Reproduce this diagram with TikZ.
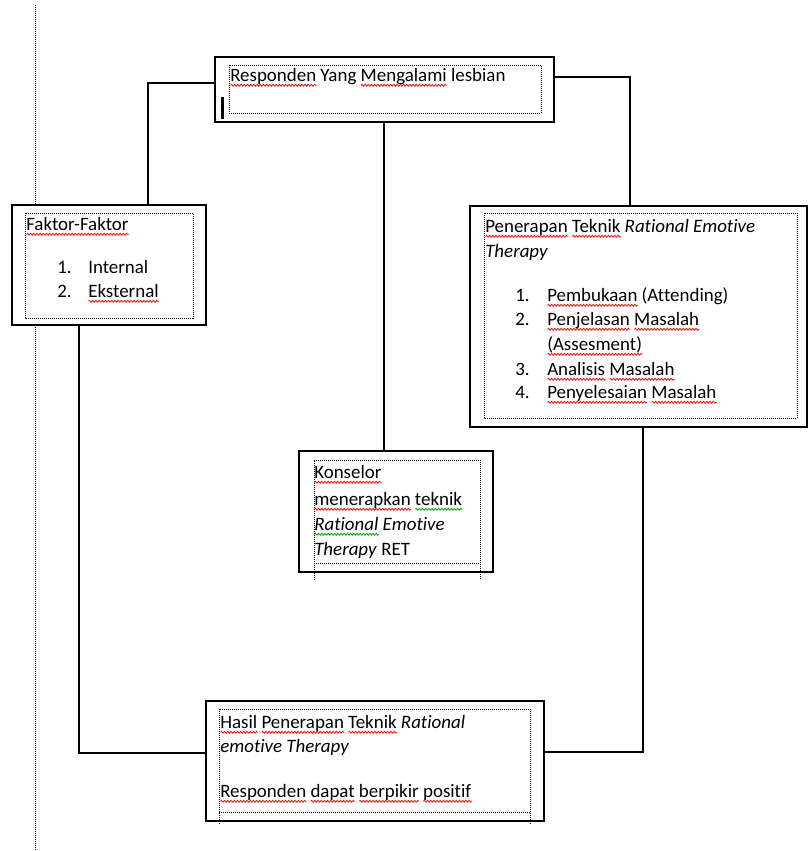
\documentclass[tikz,border=0pt]{standalone}
\usepackage{fontspec}
\setmainfont{Carlito}[Ligatures={NoCommon}]
\usetikzlibrary{fit,decorations.pathmorphing}
\newdimen\wvw
\newcommand\wv[2]{\setbox0\hbox{#2}\wvw=\wd0\relax\leavevmode\rlap{\raisebox{-3.2pt}{\tikz[x=1pt,y=1pt,baseline=0pt]\draw[#1,line width=0.55pt,decorate,decoration={zigzag,amplitude=0.75pt,segment length=2.4pt}] (0,0) -- (\wvw,0);}}\box0\relax}
\newcommand\rw[1]{\wv{red}{#1}}
\newcommand\gw[1]{\wv{green!60!black}{#1}}
\begin{document}
\begin{tikzpicture}[x=0.75pt,y=-0.75pt,
  outer/.style={draw, fill=white, line width=1.5pt, inner sep=0pt},
  conn/.style={line width=1.1pt},
  inner/.style={line width=0.75pt, dash pattern=on 0.75pt off 0.75pt},
  txt/.style={anchor=base west, inner sep=0pt, font=\fontsize{14.2}{16}\selectfont}]
\useasboundingbox[fill=white] (0,0) rectangle (809,851);
% page margin line
\draw[inner] (35,5) -- (35,851);
% boxes
\node[outer, fit={(215,57) (554,122)}] (top) {};
\node[outer, fit={(12,205) (206,325)}] (left) {};
\node[outer, fit={(470,206) (807,427)}] (right) {};
\node[outer, fit={(299,451) (493,572)}] (mid) {};
\node[outer, fit={(206,701) (544,821)}] (bot) {};
% inner dotted frames
\draw[inner] (229,65) rectangle (541,113);
\draw[inner] (25,213) rectangle (193,318);
\draw[inner] (484,213) rectangle (797,418);
\draw[inner] (314,580) -- (314,460) -- (480,460) -- (480,580);
\draw[inner] (314,563) -- (480,563);
\draw[inner] (219,824) -- (219,709) -- (530,709) -- (530,824);
\draw[inner] (219,812) -- (530,812);
% cursor
\fill (220.5,97) rectangle (223.5,119);
% connectors
\coordinate (c1) at (148,83);
\coordinate (c2) at (630,77);
\coordinate (c3) at (384,0);
\coordinate (c4) at (79,753);
\coordinate (c5) at (643,752);
\draw[conn] (top.west |- c1) -- (c1) -- (c1 |- left.north);
\draw[conn] (top.east |- c2) -- (c2) -- (c2 |- right.north);
\draw[conn] (c3 |- top.south) -- (c3 |- mid.north);
\draw[conn] (c4 |- left.south) -- (c4) -- (c4 -| bot.west);
\draw[conn] (c5 |- right.south) -- (c5) -- (c5 -| bot.east);
% texts
\node[txt] (ttop) at (230,81) {\rw{Responden} Yang \rw{Mengalami} lesbian};
\node[txt] (tl1) at (26,230) {\rw{Faktor-Faktor}};
\node[txt] (tl2) at (57,273) {1.};
\node[txt] (tl3) at (88,273) {Internal};
\node[txt] (tl4) at (57,297) {2.};
\node[txt] (tl5) at (88,297) {\rw{Eksternal}};
\node[txt] (tr1) at (485,232) {\rw{Penerapan} \rw{Teknik} \textit{Rational Emotive}};
\node[txt] (tr2) at (485,257) {\textit{Therapy}};
\node[txt] (tr3) at (515,301) {1.};
\node[txt] (tr4) at (547,301) {\rw{Pembukaan} (Attending)};
\node[txt] (tr5) at (515,325) {2.};
\node[txt] (tr6) at (547,325) {\rw{Penjelasan} \rw{Masalah}};
\node[txt] (tr7) at (547,350) {\rw{(Assesment)}};
\node[txt] (tr8) at (515,375) {3.};
\node[txt] (tr9) at (547,375) {\rw{Analisis} \rw{Masalah}};
\node[txt] (tr10) at (515,398) {4.};
\node[txt] (tr11) at (547,398) {\rw{Penyelesaian} \rw{Masalah}};
\node[txt] (tm1) at (314,478) {\rw{Konselor}};
\node[txt] (tm2) at (314,505) {\rw{menerapkan} \gw{teknik}};
\node[txt] (tm3) at (314,530) {\textit{\gw{Rational} Emotive}};
\node[txt] (tm4) at (314,555) {\textit{Therapy} RET};
\node[txt] (tb1) at (220,728) {\rw{Hasil} \rw{Penerapan} \rw{Teknik} \textit{Rational}};
\node[txt] (tb2) at (220,752) {\textit{emotive Therapy}};
\node[txt] (tb3) at (220,797) {\rw{Responden} \rw{dapat} \rw{berpikir} \rw{positif}};
\end{tikzpicture}
\end{document}
